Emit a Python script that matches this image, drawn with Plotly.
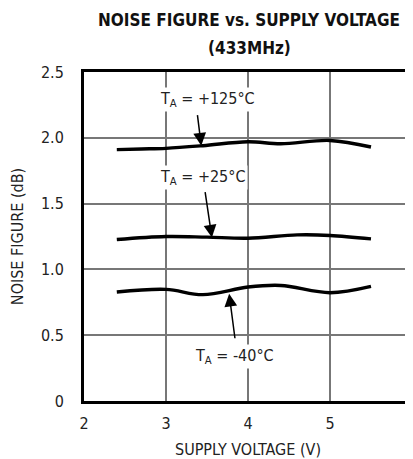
import plotly.graph_objects as go

# Data
v_125 = [2.4, 2.7, 3.0, 3.45, 4.0, 4.4, 5.0, 5.5]
nf_125 = [1.91, 1.915, 1.92, 1.94, 1.97, 1.955, 1.98, 1.93]

v_25 = [2.4, 3.0, 3.5, 4.0, 4.6, 5.0, 5.5]
nf_25 = [1.227, 1.25, 1.245, 1.237, 1.262, 1.258, 1.232]

v_m40 = [2.4, 3.0, 3.45, 4.0, 4.4, 5.0, 5.5]
nf_m40 = [0.828, 0.848, 0.808, 0.866, 0.878, 0.823, 0.871]

x_ticks = [2, 3, 4, 5, 6]
y_ticks = [0, 0.5, 1.0, 1.5, 2.0, 2.5]
y_tick_text = ["0", "0.5", "1.0", "1.5", "2.0", "2.5"]

FONT = "Liberation Sans Narrow, DejaVu Sans Condensed, Arial Narrow, sans-serif"

# page body has an 8px margin, so the figure is offset by 8px
W, H = 405, 451
ML, MR, MT, MB = 76, 1, 64, 58

fig = go.Figure()
for xs, ys in [(v_125, nf_125), (v_25, nf_25), (v_m40, nf_m40)]:
    fig.add_trace(go.Scatter(x=xs, y=ys, mode="lines",
                             line=dict(color="black", width=3.4, shape="spline", smoothing=1.0),
                             showlegend=False, hoverinfo="skip"))

# arrows
arrows = [
    (3.43, 1.94, -4, -32),
    (3.56, 1.242, -7, -47),
    (3.77, 0.815, 6, 46),
]
for x, y, ax, ay in arrows:
    fig.add_annotation(x=x, y=y, ax=ax, ay=ay, text="", showarrow=True,
                       arrowhead=2, arrowsize=1.7, arrowwidth=1.5, arrowcolor="black")

labels = [
    (3.51, 2.29, "T<sub>A</sub> = +125°C"),
    (3.45, 1.697, "T<sub>A</sub> = +25°C"),
    (3.84, 0.34, "T<sub>A</sub> = -40°C"),
]
for x, y, t in labels:
    fig.add_annotation(x=x, y=y, text=t, showarrow=False, bgcolor="white",
                       font=dict(family=FONT, size=16, color="#222"))

# title lines
plot_h = H - MT - MB
plot_w = W - ML - MR
fig.add_annotation(xref="paper", yref="paper", x=(249 - 84) / plot_w, y=1 + 52 / plot_h,
                   text="<b>NOISE FIGURE vs. SUPPLY VOLTAGE</b>", showarrow=False,
                   xanchor="center", yanchor="middle",
                   font=dict(family=FONT, size=17, color="#111"))
fig.add_annotation(xref="paper", yref="paper", x=(249 - 84) / plot_w, y=1 + 24 / plot_h,
                   text="<b>(433MHz)</b>", showarrow=False,
                   xanchor="center", yanchor="middle",
                   font=dict(family=FONT, size=17, color="#111"))

fig.update_layout(
    width=W, height=H,
    margin=dict(l=ML, r=MR, t=MT, b=MB, autoexpand=False),
    paper_bgcolor="white", plot_bgcolor="white",
    font=dict(family=FONT, size=16, color="#222"),
)
fig.update_xaxes(range=[2, 6], tickvals=x_ticks, showgrid=True, gridcolor="#777", gridwidth=1.5,
                 showline=True, linecolor="black", linewidth=3, mirror=True, zeroline=False,
                 ticks="", ticklen=0, automargin=False, ticklabelstandoff=6,
                 ticklabeloverflow="allow",
                 title=dict(text="SUPPLY VOLTAGE (V)", standoff=13, font=dict(size=16)))
fig.update_yaxes(range=[0, 2.5], tickvals=y_ticks, ticktext=y_tick_text, showgrid=True,
                 gridcolor="#777", gridwidth=1.5,
                 showline=True, linecolor="black", linewidth=3, mirror=True, zeroline=False,
                 ticks="", ticklen=0, automargin=False, ticklabelstandoff=14,
                 title=dict(text="NOISE FIGURE (dB)", standoff=14, font=dict(size=16)))

fig.write_html("out.html")
